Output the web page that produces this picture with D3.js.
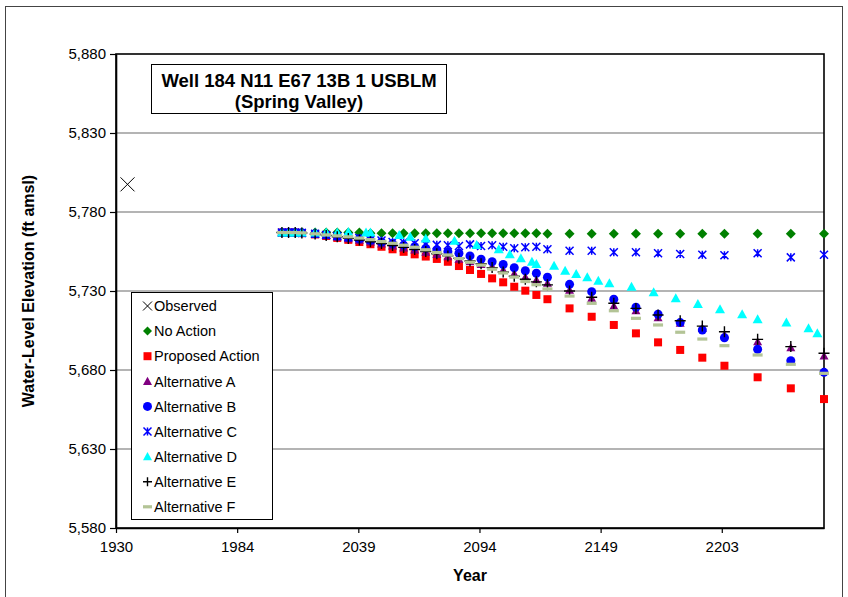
<!DOCTYPE html>
<html>
<head>
<meta charset="utf-8">
<script src="https://cdn.jsdelivr.net/npm/d3@7"></script>
<style>
  body { margin: 0; background: #fff; }
  svg { display: block; }
  text { font-family: Arial, "Liberation Sans", sans-serif; }
</style>
</head>
<body>
<svg id="chart" width="848" height="597"></svg>
<script>
// ---- Axis ticks (date axis, major unit = 20000 days) ----
const yearTicks = [1930, 1984.76, 2039.52, 2094.28, 2149.04, 2203.80];
const yearTickLabels = ["1930", "1984", "2039", "2094", "2149", "2203"];
const elevTicks = [5580, 5630, 5680, 5730, 5780, 5830, 5880];

// ---- Observed water level ----
const observedYears = [1935.2];
const observedElev = [5797.5];

// ---- Simulated output years shared by most scenarios ----
const simYears = [2005, 2008, 2011, 2014, 2020, 2025, 2030, 2035, 2040, 2045, 2050, 2055,
  2060, 2065, 2070, 2075, 2080, 2085, 2090, 2095, 2100, 2105, 2110, 2115, 2120, 2125,
  2135, 2145, 2155, 2165, 2175, 2185, 2195, 2205, 2220, 2235, 2250];

const noAction = [5767, 5767, 5767, 5767, 5767, 5767, 5767, 5767, 5767,
  5766.6, 5766.6, 5766.6, 5766.6, 5766.6, 5766.6, 5766.6, 5766.6, 5766.6, 5766.6, 5766.6,
  5766.6, 5766.6, 5766.6, 5766.6, 5766.6,
  5766.2, 5766.2, 5766.2, 5766.2, 5766.2, 5766.2, 5766.2, 5766.2, 5766.2, 5766.2, 5766.2, 5766.2];

const proposedAction = [5767, 5767, 5767, 5766.6, 5765.8, 5764.8, 5763.6, 5762.4, 5761, 5759.6,
  5758, 5756.4, 5754.8, 5753.2, 5751.8, 5750.3, 5748.5, 5745.8, 5743.3, 5740.8, 5738, 5735.5,
  5732.7, 5730.2, 5727.5, 5724.8, 5719, 5713.7, 5708.5, 5703.2, 5697.5, 5692.7, 5687.8, 5682.7,
  5675.4, 5668.4, 5661.6];

const altA = [5767, 5767, 5767, 5766.7, 5766, 5765.2, 5764.2, 5763.2, 5762.2, 5761, 5759.8,
  5758.6, 5757.3, 5756, 5754.6, 5753.2, 5751.8, 5750.2, 5748.5, 5746.8, 5745.5, 5743.3, 5741,
  5738.9, 5737, 5734.9, 5730.6, 5725.4, 5720.5, 5717.5, 5713.1, 5709.6, 5706.4, 5702.2, 5697.9,
  5694.1, 5688.9];

const altB = [5767, 5767, 5767, 5766.8, 5766.2, 5765.5, 5764.6, 5763.8, 5763, 5762, 5761, 5760,
  5759, 5758, 5757, 5756, 5754.9, 5753.9, 5752.2, 5750.1, 5748.5, 5746.8, 5744.7, 5742.8, 5741.2,
  5738.7, 5734.2, 5729.6, 5724.8, 5719.7, 5715.3, 5710, 5705.3, 5700.4, 5693.1, 5685.9, 5678.5];

const altC = [5767, 5767, 5767, 5766.8, 5766.2, 5765.5, 5764.8, 5764, 5763.5, 5762.5, 5762, 5761,
  5760.8, 5760.2, 5759.5, 5759.2, 5759, 5758.5, 5759.5, 5758.5, 5759, 5758, 5757, 5757.7, 5758,
  5756.4, 5755.5, 5755.5, 5754.5, 5754.5, 5753.9, 5753.4, 5753, 5752.6, 5753.9, 5751.3, 5753];

const altE = [5767, 5767, 5767, 5766.7, 5766, 5765.2, 5764.3, 5763.3, 5762.3, 5761.2, 5760,
  5758.8, 5757.6, 5756.3, 5755, 5753.6, 5752.2, 5750.7, 5749, 5747.2, 5744.8, 5742, 5739.3,
  5737.4, 5735.8, 5733.9, 5730, 5726, 5722.2, 5719, 5714.8, 5711.2, 5707.8, 5704.2, 5699.4,
  5694.8, 5690.6];

const altF = [5767, 5767, 5767, 5766.8, 5766.2, 5765.5, 5764.9, 5764.3, 5763.5, 5762.5, 5761.3,
  5760.2, 5759, 5757.7, 5756.1, 5754.4, 5752.8, 5750.5, 5748.2, 5746.4, 5743.8, 5741.4, 5738.8,
  5736, 5734, 5731.3, 5726.8, 5722.2, 5717.5, 5712.7, 5708.5, 5703.9, 5699.6, 5695.4, 5689.5,
  5683.6, 5677.9];

// Alternative D is reported on its own schedule
const altDYears = [2005, 2008, 2011, 2014, 2020, 2025, 2030, 2035, 2043, 2045, 2058, 2063, 2070,
  2083, 2093, 2103, 2108, 2113, 2118, 2120, 2128, 2133, 2138, 2143, 2148, 2153, 2163, 2173,
  2183, 2193, 2203, 2213, 2220, 2233, 2243, 2247];
const altD = [5767, 5767, 5767, 5767, 5767, 5767, 5767, 5767.4, 5767, 5767, 5765.4, 5764.4, 5763.3,
  5761.8, 5759.1, 5756.4, 5753.2, 5750.7, 5748.5, 5747.1, 5746, 5742.8, 5740.8, 5738.7, 5736.5,
  5734.9, 5732.7, 5729.2, 5725.4, 5721.8, 5718.4, 5715.3, 5712.1, 5710, 5706.4, 5703.2];

const seriesNames = ["Observed", "No Action", "Proposed Action", "Alternative A", "Alternative B",
  "Alternative C", "Alternative D", "Alternative E", "Alternative F"];

// ---- Layout ----
const svg = d3.select("#chart");
const plot = { left: 116, right: 824, top: 54, bottom: 528 };

const x = d3.scaleLinear().domain([1930, 2250]).range([plot.left, plot.right]);
const y = d3.scaleLinear().domain([5580, 5880]).range([plot.bottom, plot.top]);

// outer chart frame
svg.append("rect").attr("x", 5.5).attr("y", 6.5).attr("width", 837).attr("height", 620)
  .attr("fill", "none").attr("stroke", "#444").attr("stroke-width", 1);

// horizontal gridlines
svg.append("g").selectAll("line")
  .data(elevTicks.filter(d => d > 5580 && d < 5880))
  .join("line")
  .attr("x1", plot.left).attr("x2", plot.right)
  .attr("y1", d => y(d)).attr("y2", d => y(d))
  .attr("stroke", "#b4b4b4").attr("stroke-width", 2);

// plot border
svg.append("rect")
  .attr("x", plot.left).attr("y", plot.top)
  .attr("width", plot.right - plot.left).attr("height", plot.bottom - plot.top)
  .attr("fill", "none").attr("stroke", "#000").attr("stroke-width", 1.6);

// axes
const yAxis = d3.axisLeft(y).tickValues(elevTicks).tickFormat(d3.format(",")).tickSize(6).tickSizeOuter(0).tickPadding(4);
const gy = svg.append("g").attr("transform", `translate(${plot.left},0)`).call(yAxis);
const xAxis = d3.axisBottom(x).tickValues(yearTicks)
  .tickFormat((d, i) => yearTickLabels[i]).tickSize(5).tickSizeOuter(0).tickPadding(8);
const gx = svg.append("g").attr("transform", `translate(0,${plot.bottom})`).call(xAxis);
[gy, gx].forEach(g => {
  g.select(".domain").attr("stroke", "#000").attr("stroke-width", 1.6);
  g.selectAll(".tick line").attr("stroke", "#000").attr("stroke-width", 1.2);
  g.selectAll(".tick text").attr("font-size", 15).attr("fill", "#000")
    .attr("font-family", "Arial, 'Liberation Sans', sans-serif");
});

// axis titles
svg.append("text")
  .attr("transform", `translate(34,${(plot.top + plot.bottom) / 2}) rotate(-90)`)
  .attr("text-anchor", "middle").attr("font-weight", "bold").attr("font-size", 16)
  .text("Water-Level Elevation (ft amsl)");
svg.append("text")
  .attr("x", (plot.left + plot.right) / 2).attr("y", 581)
  .attr("text-anchor", "middle").attr("font-weight", "bold").attr("font-size", 16)
  .text("Year");

// ---- Markers ----
function drawMarker(g, type, cx, cy, s) {
  // s = nominal marker size in px
  const h = s / 2;
  switch (type) {
    case "x":
      g.append("path").attr("d", `M${cx - h},${cy - h}L${cx + h},${cy + h}M${cx - h},${cy + h}L${cx + h},${cy - h}`)
        .attr("stroke", "#000").attr("stroke-width", 1).attr("fill", "none");
      break;
    case "diamond":
      g.append("path").attr("d", `M${cx},${cy - h}L${cx + h},${cy}L${cx},${cy + h}L${cx - h},${cy}Z`)
        .attr("fill", "#008000");
      break;
    case "square":
      g.append("rect").attr("x", cx - h).attr("y", cy - h).attr("width", s).attr("height", s)
        .attr("fill", "#ff0000");
      break;
    case "triangle":
      g.append("path").attr("d", `M${cx},${cy - h}L${cx + h},${cy + h * 0.8}L${cx - h},${cy + h * 0.8}Z`)
        .attr("fill", g.attr("data-color"));
      break;
    case "circle":
      g.append("circle").attr("cx", cx).attr("cy", cy).attr("r", h).attr("fill", "#0000ff");
      break;
    case "asterisk":
      g.append("path").attr("d",
        `M${cx - h},${cy - h}L${cx + h},${cy + h}M${cx - h},${cy + h}L${cx + h},${cy - h}` +
        `M${cx},${cy - h}L${cx},${cy + h}`)
        .attr("stroke", "#0000ff").attr("stroke-width", 1.5).attr("fill", "none");
      break;
    case "plus":
      g.append("path").attr("d", `M${cx - h},${cy}L${cx + h},${cy}M${cx},${cy - h}L${cx},${cy + h}`)
        .attr("stroke", "#000").attr("stroke-width", 1.4).attr("fill", "none");
      break;
    case "dash":
      g.append("rect").attr("x", cx - h).attr("y", cy - 1.6).attr("width", s).attr("height", 3.2)
        .attr("fill", "#b3c496");
      break;
  }
}

const series = [
  { name: seriesNames[0], xs: observedYears, ys: observedElev, type: "x", size: 14, legSize: 9, color: "#000" },
  { name: seriesNames[1], xs: simYears, ys: noAction, type: "diamond", size: 10, legSize: 9, color: "#008000" },
  { name: seriesNames[2], xs: simYears, ys: proposedAction, type: "square", size: 8, legSize: 8, color: "#ff0000" },
  { name: seriesNames[3], xs: simYears, ys: altA, type: "triangle", size: 9, legSize: 9, color: "#800080" },
  { name: seriesNames[4], xs: simYears, ys: altB, type: "circle", size: 9, legSize: 9, color: "#0000ff" },
  { name: seriesNames[5], xs: simYears, ys: altC, type: "asterisk", size: 8, legSize: 8, color: "#0000ff" },
  { name: seriesNames[6], xs: altDYears, ys: altD, type: "triangle", size: 10, legSize: 9, color: "#00ffff" },
  { name: seriesNames[7], xs: simYears, ys: altE, type: "plus", size: 11, legSize: 9, color: "#000" },
  { name: seriesNames[8], xs: simYears, ys: altF, type: "dash", size: 10, legSize: 9, color: "#b3c496" }
];

const marks = svg.append("g");
series.forEach(s => {
  const g = marks.append("g").attr("data-color", s.color);
  s.xs.forEach((yr, i) => drawMarker(g, s.type, x(yr), y(s.ys[i]), s.size));
});

// ---- Title box ----
const title = svg.append("g");
title.append("rect").attr("x", 151.5).attr("y", 64.5).attr("width", 295).attr("height", 49)
  .attr("fill", "#fff").attr("stroke", "#000").attr("stroke-width", 1);
title.append("text").attr("x", 299).attr("y", 86.5).attr("text-anchor", "middle")
  .attr("font-weight", "bold").attr("font-size", 18.5).text("Well 184 N11 E67 13B 1 USBLM");
title.append("text").attr("x", 299).attr("y", 108).attr("text-anchor", "middle")
  .attr("font-weight", "bold").attr("font-size", 18.5).text("(Spring Valley)");

// ---- Legend ----
const legend = svg.append("g");
legend.append("rect").attr("x", 131.5).attr("y", 292.5).attr("width", 141).attr("height", 227)
  .attr("fill", "#fff").attr("stroke", "#000").attr("stroke-width", 1);
series.forEach((s, i) => {
  const cy = 306 + i * 25.1;
  const g = legend.append("g").attr("data-color", s.color);
  drawMarker(g, s.type, 147.5, cy, s.legSize);
  legend.append("text").attr("x", 154).attr("y", cy + 5.2).attr("font-size", 14.5).text(s.name);
});
</script>
</body>
</html>
